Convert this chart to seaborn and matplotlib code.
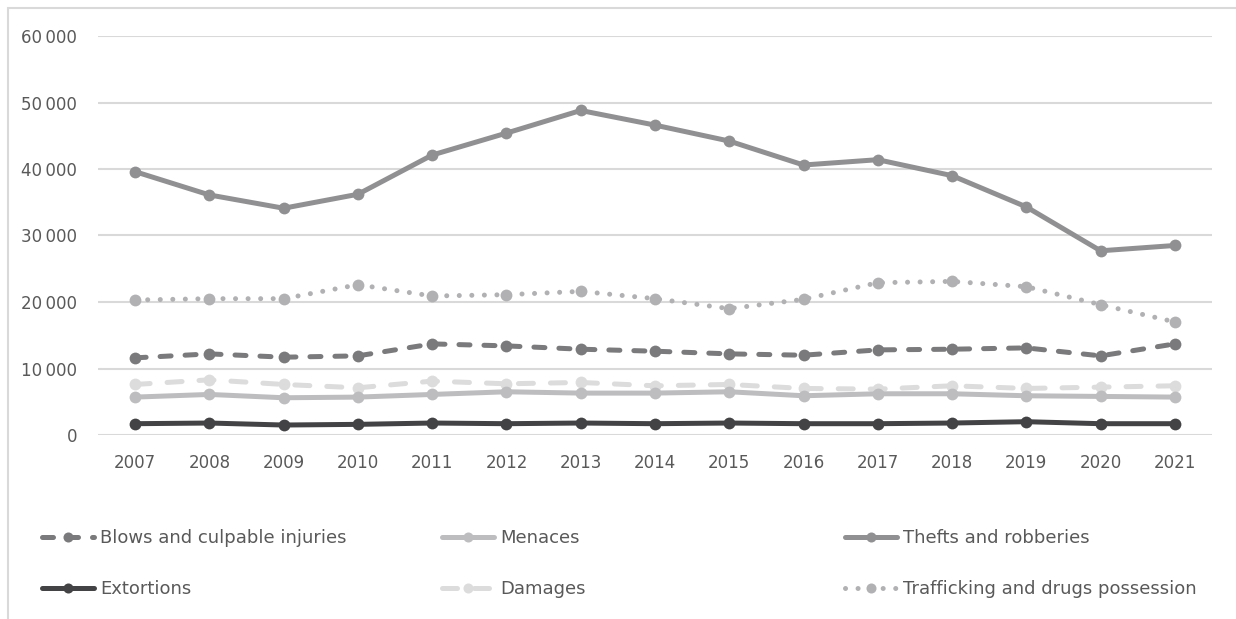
import matplotlib
matplotlib.use("Agg")
import matplotlib.pyplot as plt
import seaborn as sns
import pandas as pd
from matplotlib.patches import Rectangle
from matplotlib.ticker import FuncFormatter, MultipleLocator

years = ["2007", "2008", "2009", "2010", "2011", "2012", "2013", "2014",
         "2015", "2016", "2017", "2018", "2019", "2020", "2021"]

blows = [11600, 12200, 11700, 11900, 13700, 13400, 12900, 12600,
         12200, 12000, 12800, 12900, 13100, 11900, 13700]
menaces = [5700, 6100, 5600, 5700, 6100, 6500, 6300, 6300,
           6500, 5900, 6200, 6200, 5900, 5800, 5700]
thefts = [39600, 36100, 34100, 36200, 42100, 45400, 48800, 46600,
          44200, 40600, 41400, 39000, 34300, 27700, 28500]
extortions = [1700, 1800, 1500, 1600, 1800, 1700, 1800, 1700,
              1800, 1700, 1700, 1800, 2000, 1700, 1700]
damages = [7600, 8300, 7600, 7100, 8100, 7700, 7900, 7400,
           7600, 7000, 6900, 7400, 7000, 7200, 7400]
trafficking = [20300, 20500, 20500, 22600, 20900, 21100, 21600, 20500,
               19000, 20400, 22900, 23100, 22300, 19600, 17000]

series_names = ["Blows and culpable injuries", "Menaces", "Thefts and robberies",
                "Extortions", "Damages", "Trafficking and drugs possession"]
series_values = [blows, menaces, thefts, extortions, damages, trafficking]

df = pd.DataFrame({
    "year": years * len(series_names),
    "series": [n for n in series_names for _ in years],
    "value": [v for vals in series_values for v in vals],
})

colors = {
    "Blows and culpable injuries": "#7a7a7c",
    "Menaces": "#bdbdc0",
    "Thefts and robberies": "#909093",
    "Extortions": "#434345",
    "Damages": "#dcdcdd",
    "Trafficking and drugs possession": "#b1b1b4",
}
dashes = {
    "Blows and culpable injuries": (2.2, 2.8),
    "Menaces": "",
    "Thefts and robberies": "",
    "Extortions": "",
    "Damages": (3.0, 3.4),
    "Trafficking and drugs possession": (0.01, 2.5),
}
# draw order keeps the darker lines on top
draw_order = ["Damages", "Menaces", "Trafficking and drugs possession",
              "Blows and culpable injuries", "Thefts and robberies", "Extortions"]

sns.set_theme(style="white")
plt.rcParams["font.family"] = ["DejaVu Sans"]
text_color = "#595959"

fig = plt.figure(figsize=(12.36, 6.19), dpi=100)
ax = fig.add_axes([98 / 1236, 1 - 435 / 619, (1212 - 98) / 1236, (435 - 36) / 619])

handles = {}
for name in draw_order:
    sub = df[df["series"] == name]
    sns.lineplot(data=sub, x="year", y="value", ax=ax, color=colors[name],
                 linewidth=3.6, marker="o", markersize=8.5, markeredgewidth=0,
                 sort=False, legend=False)
    line = ax.lines[-1]
    d = dashes[name]
    if d:
        line.set_dashes(d)
        line.set_dash_capstyle("round")
    else:
        line.set_solid_capstyle("round")
    handles[name] = line

ax.set_xlim(-0.5, len(years) - 0.5)
ax.set_ylim(0, 60000)
ax.yaxis.set_major_locator(MultipleLocator(10000))
ax.yaxis.set_major_formatter(
    FuncFormatter(lambda v, p: "0" if v == 0 else f"{int(v):,}".replace(",", "\u2009")))
ax.grid(axis="y", color="#d9d9d9", linewidth=1.5)
ax.set_axisbelow(True)
for s in ax.spines.values():
    s.set_visible(False)
ax.set_xlabel("")
ax.set_ylabel("")
ax.tick_params(axis="both", length=0, labelsize=12, labelcolor=text_color)
ax.tick_params(axis="x", pad=14)
ax.tick_params(axis="y", pad=15)

# legend: three columns of two entries each
columns = [series_names[0::3], series_names[1::3], series_names[2::3]]
column_x = [42, 442, 845]
for names, x0 in zip(columns, column_x):
    leg = fig.legend([handles[n] for n in names], names,
                     loc="upper left", bbox_to_anchor=(x0 / 1236, 1 - 529 / 619),
                     borderaxespad=0, borderpad=0, frameon=False, fontsize=13,
                     handlelength=2.9, handletextpad=0.3, labelspacing=1.82,
                     labelcolor=text_color, markerscale=0.85)

# chart frame
fig.patches.append(Rectangle((8 / 1236, -0.01), 1.1, 1 - 8 / 619 + 0.01,
                             transform=fig.transFigure, fill=False,
                             edgecolor="#d9d9d9", linewidth=1.5))

fig.savefig("out.png", dpi=100, facecolor="white")
